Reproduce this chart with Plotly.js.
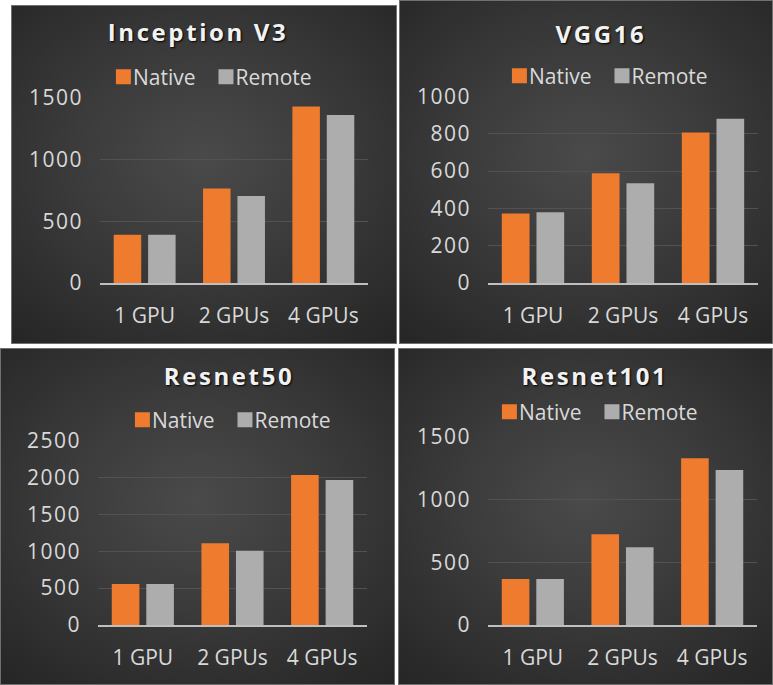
<!DOCTYPE html>
<html><head><meta charset="utf-8">
<script src="https://cdn.plot.ly/plotly-3.0.1.min.js"></script>
<style>
html,body{margin:0;padding:0;background:#fff;width:773px;height:685px;overflow:hidden;}
.panel{position:absolute;background:radial-gradient(ellipse 75% 70% at 50% 45%, #4a4a4a 0%, #3b3b3b 45%, #262626 100%);box-shadow: inset 0 0 0 1px #707070;}
.gtitle{letter-spacing:2.6px;}
.ytick text{letter-spacing:1.5px;}
</style></head><body>
<div id="p1" class="panel" style="left:11px;top:5px;width:386px;height:339px"></div>
<div id="p2" class="panel" style="left:399px;top:0px;width:374px;height:344px"></div>
<div id="p3" class="panel" style="left:0px;top:348px;width:395px;height:337px"></div>
<div id="p4" class="panel" style="left:398px;top:348px;width:375px;height:337px"></div>
<script>
// ---- data ----
const categories = ['1 GPU', '2 GPUs', '4 GPUs'];
const seriesNames = ['Native', 'Remote'];
const chartTitles = ['Inception V3', 'VGG16', 'Resnet50', 'Resnet101'];

const inceptionNative = [390, 765, 1428];
const inceptionRemote = [390, 703, 1359];
const vggNative = [372, 588, 807];
const vggRemote = [379, 535, 881];
const resnet50Native = [556, 1108, 2033];
const resnet50Remote = [556, 1005, 1966];
const resnet101Native = [368, 725, 1330];
const resnet101Remote = [368, 621, 1236];

const yMax = [1500, 1000, 2500, 1500];
const yStep = [500, 200, 500, 500];

// ---- styles ----
const ORANGE = '#EE7B2E';
const GRAY = '#ADADAD';
const FONT = 'Open Sans, Lato, sans-serif';
const TXT = '#d9d9d9';

const panels = [
  {id:'p1', w:386, h:339, l:89, r:29, t:90, b:61, tx:187, ty:28, lx:203, ly:72, nat:inceptionNative, rem:inceptionRemote},
  {id:'p2', w:374, h:344, l:89, r:15, t:94, b:61, tx:202, ty:35, lx:211, ly:76, nat:vggNative, rem:vggRemote},
  {id:'p3', w:395, h:337, l:98, r:28, t:90, b:60, tx:229, ty:29, lx:233, ly:72, nat:resnet50Native, rem:resnet50Remote},
  {id:'p4', w:375, h:337, l:90, r:16, t:89, b:60, tx:197, ty:29, lx:202, ly:64, nat:resnet101Native, rem:resnet101Remote}
];

function tightenLegend(gd, p) {
  const groups = gd.querySelectorAll('.legend .traces');
  groups.forEach((g, k) => {
    const path = g.querySelector('.legendpoints path');
    if (path) path.setAttribute('d', 'M7.5,7.5H-7.5V-7.5H7.5Z');
    const t = g.querySelector('.legendtext');
    if (t) t.setAttribute('x', '29.5');
    const m = /translate\(\s*([-\d.]+)[ ,]+([-\d.]+)/.exec(g.getAttribute('transform') || '');
    if (m && k > 0) {
      g.setAttribute('transform', 'translate(' + (parseFloat(m[1]) - 5 * k) + ',' + m[2] + ')');
    }
  });
  // recentre the legend on its target position
  const box = gd.querySelector('.legend .groups');
  if (!box) return;
  const r = box.getBoundingClientRect();
  const pr = gd.getBoundingClientRect();
  const delta = p.lx - (r.left + r.width / 2 - pr.left);
  groups.forEach(g => {
    const m = /translate\(\s*([-\d.]+)[ ,]+([-\d.]+)/.exec(g.getAttribute('transform') || '');
    if (m) g.setAttribute('transform', 'translate(' + (parseFloat(m[1]) + delta) + ',' + m[2] + ')');
  });
}

panels.forEach((p, i) => {
  const traces = [
    {type:'bar', name:seriesNames[0], x:categories, y:p.nat, marker:{color:ORANGE}, hoverinfo:'none'},
    {type:'bar', name:seriesNames[1], x:categories, y:p.rem, marker:{color:GRAY}, hoverinfo:'none'}
  ];
  const layout = {
    width:p.w, height:p.h,
    margin:{l:p.l, r:p.r, t:p.t, b:p.b, pad:0},
    paper_bgcolor:'rgba(0,0,0,0)', plot_bgcolor:'rgba(0,0,0,0)',
    font:{family:FONT, size:21, color:TXT},
    title:{text:chartTitles[i], xref:'container', yref:'container', x:p.tx/p.w, y:1 - p.ty/p.h,
           xanchor:'center', yanchor:'middle',
           font:{family:FONT, size:24, weight:700, color:'#f2f2f2', shadow:'1px 1px 2px #000'}},
    barmode:'group', bargap:0.23, bargroupgap:0.2,
    showlegend:true,
    legend:{orientation:'h', xref:'container', yref:'container', x:p.lx/p.w, y:1 - p.ly/p.h,
            xanchor:'center', yanchor:'middle', font:{family:FONT, size:21, color:TXT},
            bgcolor:'rgba(0,0,0,0)', itemclick:false, itemdoubleclick:false},
    xaxis:{type:'category', showgrid:false, showline:true, linecolor:'#bfbfbf', linewidth:2,
           ticks:'', ticklabelstandoff:13, zeroline:false, fixedrange:true},
    yaxis:{range:[0, yMax[i]], dtick:yStep[i], tick0:0, showgrid:true, gridcolor:'#525252', gridwidth:1,
           zeroline:false, showline:false, ticks:'', ticklabelstandoff:16, fixedrange:true}
  };
  Plotly.newPlot(p.id, traces, layout, {displayModeBar:false, staticPlot:true})
    .then(gd => tightenLegend(gd, p));
});
</script>
</body></html>
